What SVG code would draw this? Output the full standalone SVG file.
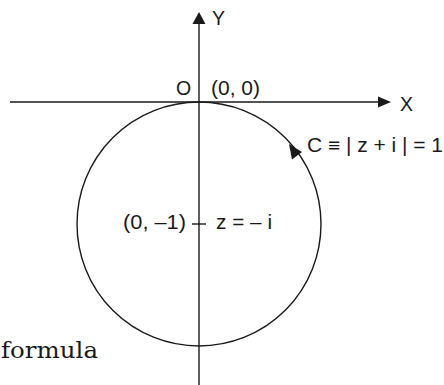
<svg xmlns="http://www.w3.org/2000/svg" width="444" height="385" viewBox="0 0 444 385">
<style>
.ln{stroke:#1a1a1a;stroke-width:1.4;fill:none}
.ah{fill:#1a1a1a;stroke:none}
.t{font-family:"Liberation Sans",Arial,sans-serif;font-size:19.5px;fill:#1a1a1a}
.s{font-family:"DejaVu Serif","Liberation Serif",serif;font-size:23px;fill:#1a1a1a}
</style>
<rect width="444" height="385" fill="#ffffff"/>
<g id="connectors">
<line class="ln" x1="10" y1="102" x2="380" y2="102"/>
<polygon class="ah" points="391,102 378,96.5 378,107.5"/>
<line class="ln" x1="199" y1="385" x2="199" y2="22"/>
<polygon class="ah" points="199,12 192.5,24 205.5,24"/>
<line class="ln" x1="192" y1="224" x2="206" y2="224"/>
</g>
<g id="circle">
<circle class="ln" cx="199" cy="224" r="122"/>
<polygon class="ah" points="289,144 302,152 292,159.5"/>
</g>
<g id="labels">
<text class="t" x="212" y="25">Y</text>
<text class="t" x="400" y="111">X</text>
<text class="t" x="176" y="95">O</text>
<text class="t" x="211" y="94.5" textLength="49" lengthAdjust="spacingAndGlyphs">(0, 0)</text>
<text class="t" x="307" y="151.5" textLength="136" lengthAdjust="spacingAndGlyphs">C ≡ | z + i | = 1</text>
<text class="t" x="123" y="229" textLength="63" lengthAdjust="spacingAndGlyphs">(0, –1)</text>
<text class="t" x="216" y="229" textLength="56" lengthAdjust="spacingAndGlyphs">z = – i</text>
<text class="s" x="1" y="358" textLength="97" lengthAdjust="spacingAndGlyphs">formula</text>
</g>
</svg>
